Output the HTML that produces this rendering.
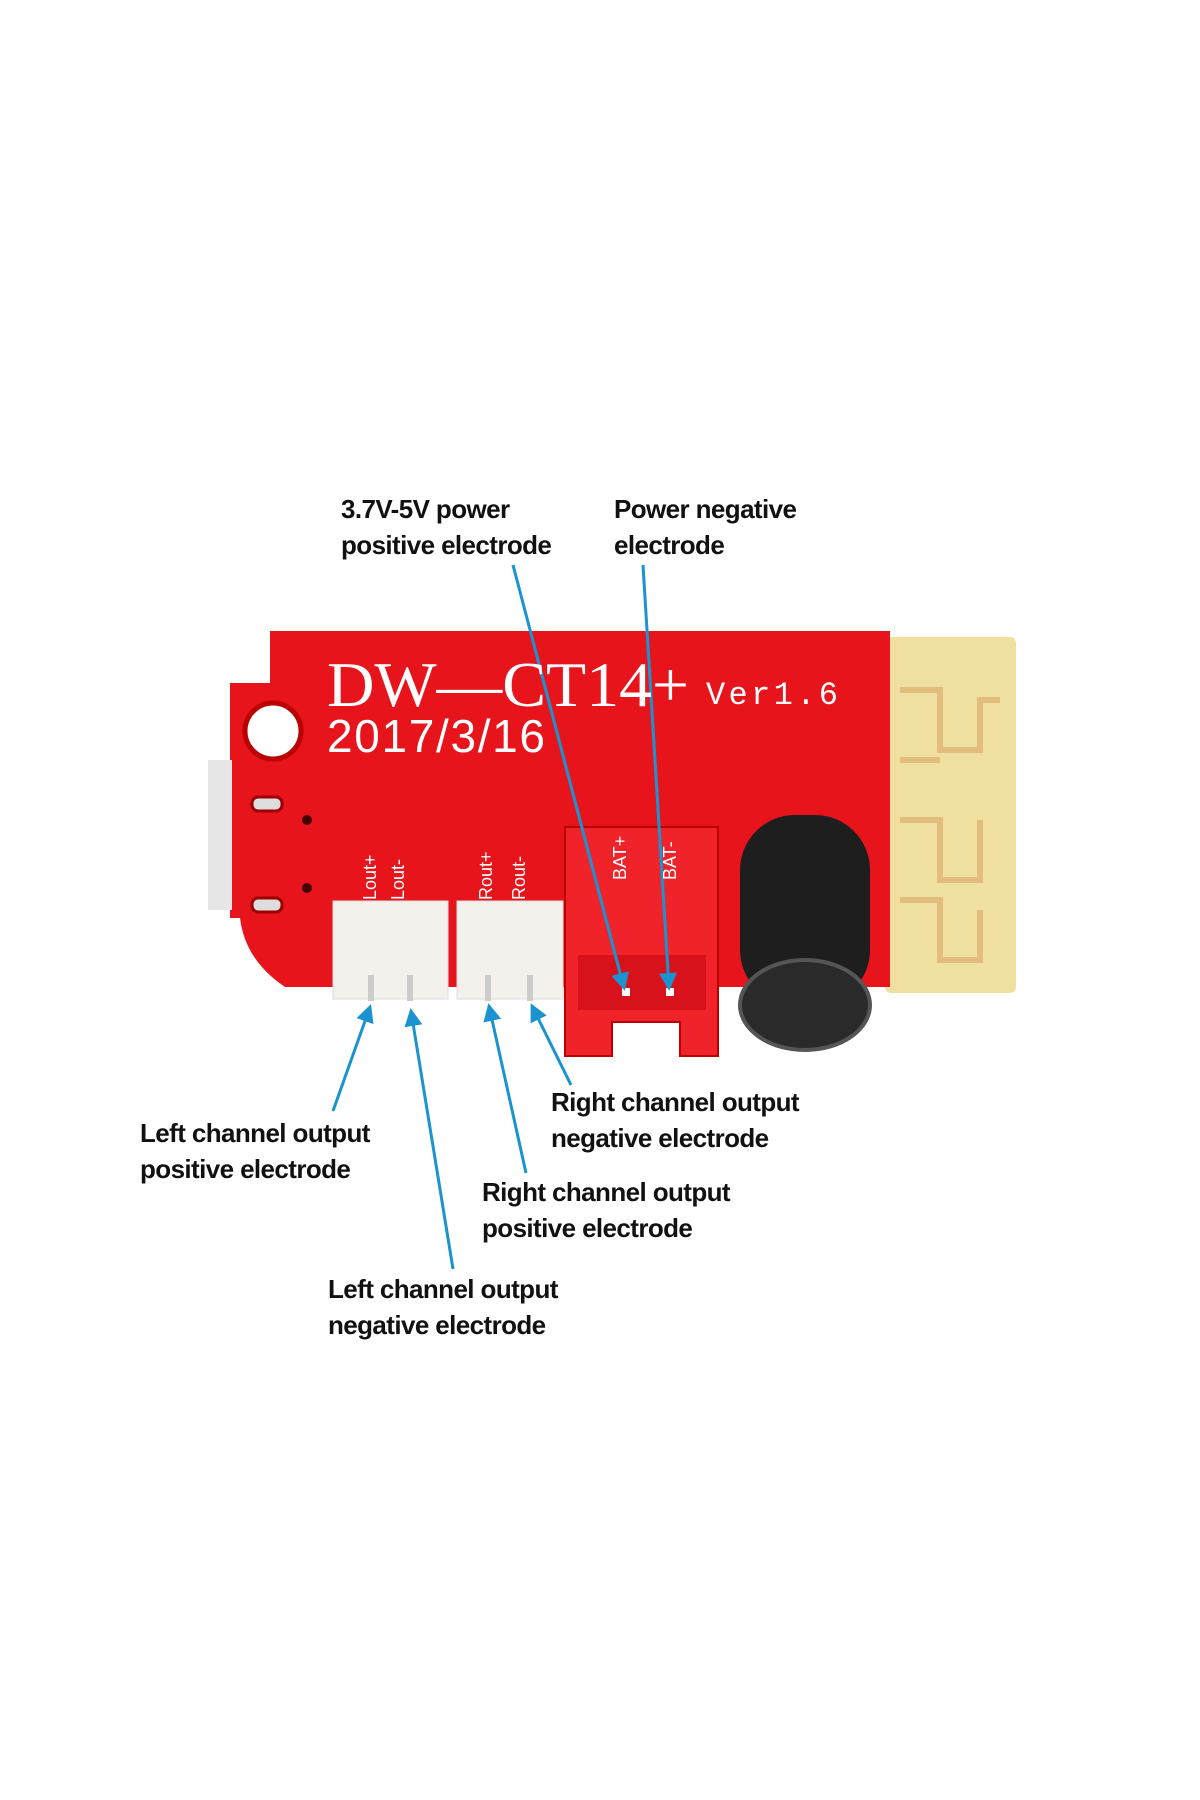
<!DOCTYPE html>
<html><head><meta charset="utf-8"><style>
body{margin:0;width:1200px;height:1800px;background:#fff;position:relative;overflow:hidden;font-family:"Liberation Sans",sans-serif}
.l{position:absolute;font-weight:bold;font-size:26px;letter-spacing:-0.6px;color:#111;line-height:36px;white-space:nowrap}
</style></head><body>
<svg width="1200" height="1800" style="position:absolute;left:0;top:0">
<defs><marker id="a" markerWidth="6" markerHeight="6" refX="5" refY="3" orient="auto" markerUnits="strokeWidth"><path d="M0,0 L6,3 L0,6 z" fill="#1b93d1"/></marker></defs>
<!-- antenna -->
<rect x="885" y="637" width="131" height="356" rx="6" fill="#efe0a0"/>
<path d="M900 690 h40 v60 h40 v-50 h20 M900 760 h40 M900 820 h40 v60 h40 v-60 M900 900 h40 v60 h40 v-50" stroke="#d8a060" stroke-width="6" fill="none" opacity=".55"/>
<!-- board -->
<path d="M270 631 H890 V987 H285 Q245 960 240 918 L230 918 V683 L270 683 Z" fill="#e8141c"/>
<circle cx="273" cy="731" r="28" fill="#fff" stroke="#b00" stroke-width="5"/>
<rect x="252" y="797" width="30" height="14" rx="6" fill="#ddd" stroke="#900" stroke-width="3"/>
<rect x="252" y="898" width="30" height="14" rx="6" fill="#ddd" stroke="#900" stroke-width="3"/>
<circle cx="307" cy="820" r="5" fill="#400"/><circle cx="307" cy="888" r="5" fill="#400"/>
<rect x="208" y="760" width="24" height="150" fill="#e6e6e6"/>
<!-- connectors -->
<rect x="333" y="901" width="115" height="98" fill="#f4f1ec" stroke="#ddd"/>
<rect x="457" y="901" width="106" height="98" fill="#f4f1ec" stroke="#ddd"/>
<rect x="368" y="975" width="6" height="26" fill="#ccc"/><rect x="407" y="975" width="6" height="26" fill="#ccc"/>
<rect x="485" y="975" width="6" height="26" fill="#ccc"/><rect x="527" y="975" width="6" height="26" fill="#ccc"/>
<path d="M565 827 H718 V1056 H680 V1022 H612 V1056 H565 Z" fill="#f0222a" stroke="#b00" stroke-width="2"/>
<rect x="578" y="955" width="128" height="55" fill="#d8121a"/>
<rect x="622" y="988" width="8" height="8" fill="#fff"/><rect x="666" y="988" width="8" height="8" fill="#fff"/>
<!-- capacitor -->
<rect x="740" y="815" width="130" height="190" rx="55" fill="#1e1e1e"/>
<ellipse cx="805" cy="1005" rx="65" ry="45" fill="#2a2a2a" stroke="#555" stroke-width="4"/>
<!-- arrows -->
<g stroke="#1b93d1" stroke-width="3" marker-end="url(#a)">
<line x1="513" y1="565" x2="624" y2="988"/>
<line x1="643" y1="565" x2="669" y2="988"/>
<line x1="333" y1="1111" x2="370" y2="1007"/>
<line x1="453" y1="1269" x2="411" y2="1011"/>
<line x1="526" y1="1173" x2="489" y2="1006"/>
<line x1="571" y1="1085" x2="532" y2="1006"/>
</g>
<g fill="#fff" font-family="Liberation Serif,serif">
<text x="327" y="706" font-size="64" textLength="362" lengthAdjust="spacingAndGlyphs">DW—CT14+</text>
<text x="706" y="704" font-size="32" font-family="Liberation Mono,monospace" textLength="132">Ver1.6</text>
<text x="327" y="752" font-size="46" font-family="Liberation Sans,sans-serif" textLength="218">2017/3/16</text>
</g>
<g fill="#fff" font-size="18">
<text transform="translate(376,900) rotate(-90)">Lout+</text>
<text transform="translate(404,900) rotate(-90)">Lout-</text>
<text transform="translate(492,900) rotate(-90)">Rout+</text>
<text transform="translate(525,900) rotate(-90)">Rout-</text>
<text transform="translate(626,880) rotate(-90)">BAT+</text>
<text transform="translate(676,880) rotate(-90)">BAT-</text>
</g>
</svg>
<div class="l" style="left:341px;top:491px">3.7V-5V power<br>positive electrode</div>
<div class="l" style="left:614px;top:491px">Power negative<br>electrode</div>
<div class="l" style="left:551px;top:1084px">Right channel output<br>negative electrode</div>
<div class="l" style="left:140px;top:1115px">Left channel output<br>positive electrode</div>
<div class="l" style="left:482px;top:1174px">Right channel output<br>positive electrode</div>
<div class="l" style="left:328px;top:1271px">Left channel output<br>negative electrode</div>
</body></html>
